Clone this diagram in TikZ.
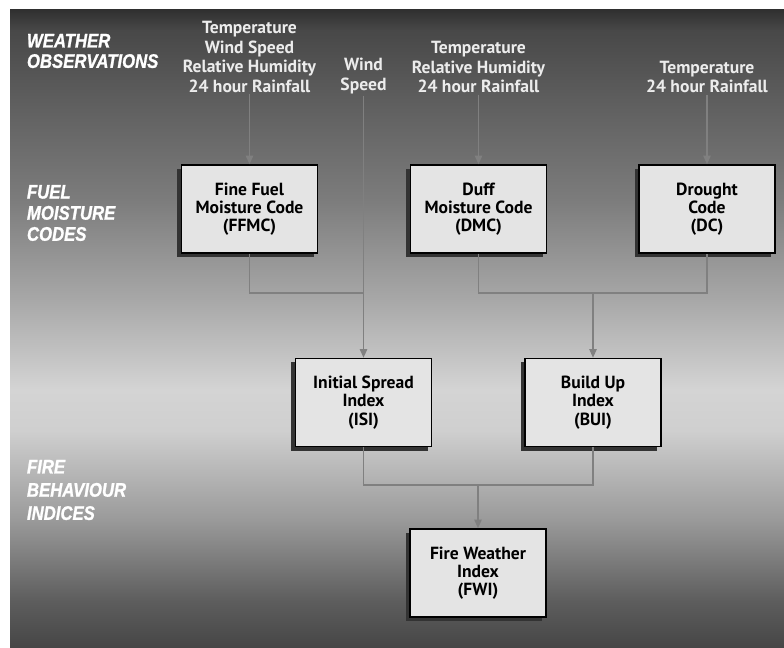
\documentclass[tikz,border=0pt]{standalone}
\usepackage{fontspec}
\usetikzlibrary{arrows.meta,shadows}

\newfontfamily\obsfont{PT Sans}
\newfontfamily\sidefont[FakeStretch=0.85,FakeBold=1.2]{Liberation Sans Bold Italic}

\definecolor{bgA}{HTML}{464646}
\definecolor{bgB}{HTML}{5E5E5E}
\definecolor{bgC}{HTML}{9A9A9A}
\definecolor{bgD}{HTML}{CFCFCF}
\definecolor{bgE}{HTML}{D4D4D4}
\definecolor{bgF}{HTML}{A8A8A8}
\definecolor{bgG}{HTML}{7C7C7C}
\definecolor{bgH}{HTML}{5E5E5E}
\definecolor{bgI}{HTML}{484848}
\definecolor{bgJ}{HTML}{303030}
\definecolor{boxgray}{HTML}{E4E4E4}
\definecolor{linegray}{HTML}{808080}
\definecolor{obswhite}{HTML}{ECECEC}

\pgfdeclareverticalshading{panelshade}{100bp}{color(0bp)=(bgA); color(25bp)=(bgA);
  color(28.7bp)=(bgB); color(35bp)=(bgC); color(42bp)=(bgD); color(45.2bp)=(bgE);
  color(52.2bp)=(bgF); color(60.1bp)=(bgG); color(67.9bp)=(bgH); color(73.4bp)=(bgI);
  color(75bp)=(bgJ); color(100bp)=(bgJ)}

\begin{document}
\begin{tikzpicture}[x=0.025cm,y=0.025cm,
    codebox/.style={rectangle,draw=black,line width=0.9pt,fill=boxgray,
      minimum width=3.4cm,minimum height=2.2cm,align=center,
      font=\obsfont\bfseries\fontsize{12.5}{13}\selectfont,
      drop shadow={shadow xshift=-0.1cm,shadow yshift=-0.1cm,fill=black!80,opacity=1}},
    obs/.style={align=center,text=obswhite,inner sep=1pt,
      font=\obsfont\bfseries\fontsize{12.5}{14}\selectfont},
    side/.style={anchor=west,align=left,text=white,
      font=\sidefont\fontsize{14}{14.5}\selectfont},
    link/.style={draw=linegray,line width=1.4pt},
    arr/.style={link,-{Triangle[length=0.22cm,width=0.18cm]}}]

  \useasboundingbox (0,0) rectangle (784,647);
  \fill[shading=panelshade] (10,0) rectangle (784,637);

  % row labels
  \node[side] (lblobs) at (22,596){WEATHER\\OBSERVATIONS};
  \node[side,font=\sidefont\fontsize{14}{15}\selectfont] (lblcodes) at (22,434){FUEL\\MOISTURE\\CODES};
  \node[side,font=\sidefont\fontsize{14}{16.5}\selectfont] (lblindex) at (22,157){FIRE\\BEHAVIOUR\\INDICES};

  % weather inputs
  \node[obs] (obsffmc) at (249.5,590){Temperature\\Wind Speed\\Relative Humidity\\24 hour Rainfall};
  \node[obs] (obswind) at (363.5,571){Wind\\Speed};
  \node[obs] (obsdmc) at (478.5,580){Temperature\\Relative Humidity\\24 hour Rainfall};
  \node[obs] (obsdc) at (707,570){Temperature\\24 hour Rainfall};

  % codes and indices
  \node[codebox] (ffmc) at (249.5,438){Fine Fuel\\Moisture Code\\(FFMC)};
  \node[codebox] (dmc) at (478.5,438){Duff\\Moisture Code\\(DMC)};
  \node[codebox] (dc) at (707,438){Drought\\Code\\(DC)};
  \node[codebox] (isi) at (363.5,244.5){Initial Spread\\Index\\(ISI)};
  \node[codebox] (bui) at (593,244.5){Build Up\\Index\\(BUI)};
  \node[codebox] (fwi) at (478,74){Fire Weather\\Index\\(FWI)};

  \coordinate (jisi) at (363.5,354);
  \coordinate (jbui) at (593,354);
  \coordinate (jfwi) at (478,162);

  \draw[arr] (obsffmc) -- (ffmc);
  \draw[arr] (obsdmc) -- (dmc);
  \draw[arr] (obsdc) -- (dc);
  \draw[arr] (obswind) -- (isi);

  \draw[link] (ffmc.south) |- (jisi);
  \draw[link] (dmc.south) |- (jbui) -| (dc.south);
  \draw[arr] (jbui) -- (bui);
  \draw[link] (isi.south) |- (jfwi) -| (bui.south);
  \draw[arr] (jfwi) -- (fwi);

\end{tikzpicture}
\end{document}
